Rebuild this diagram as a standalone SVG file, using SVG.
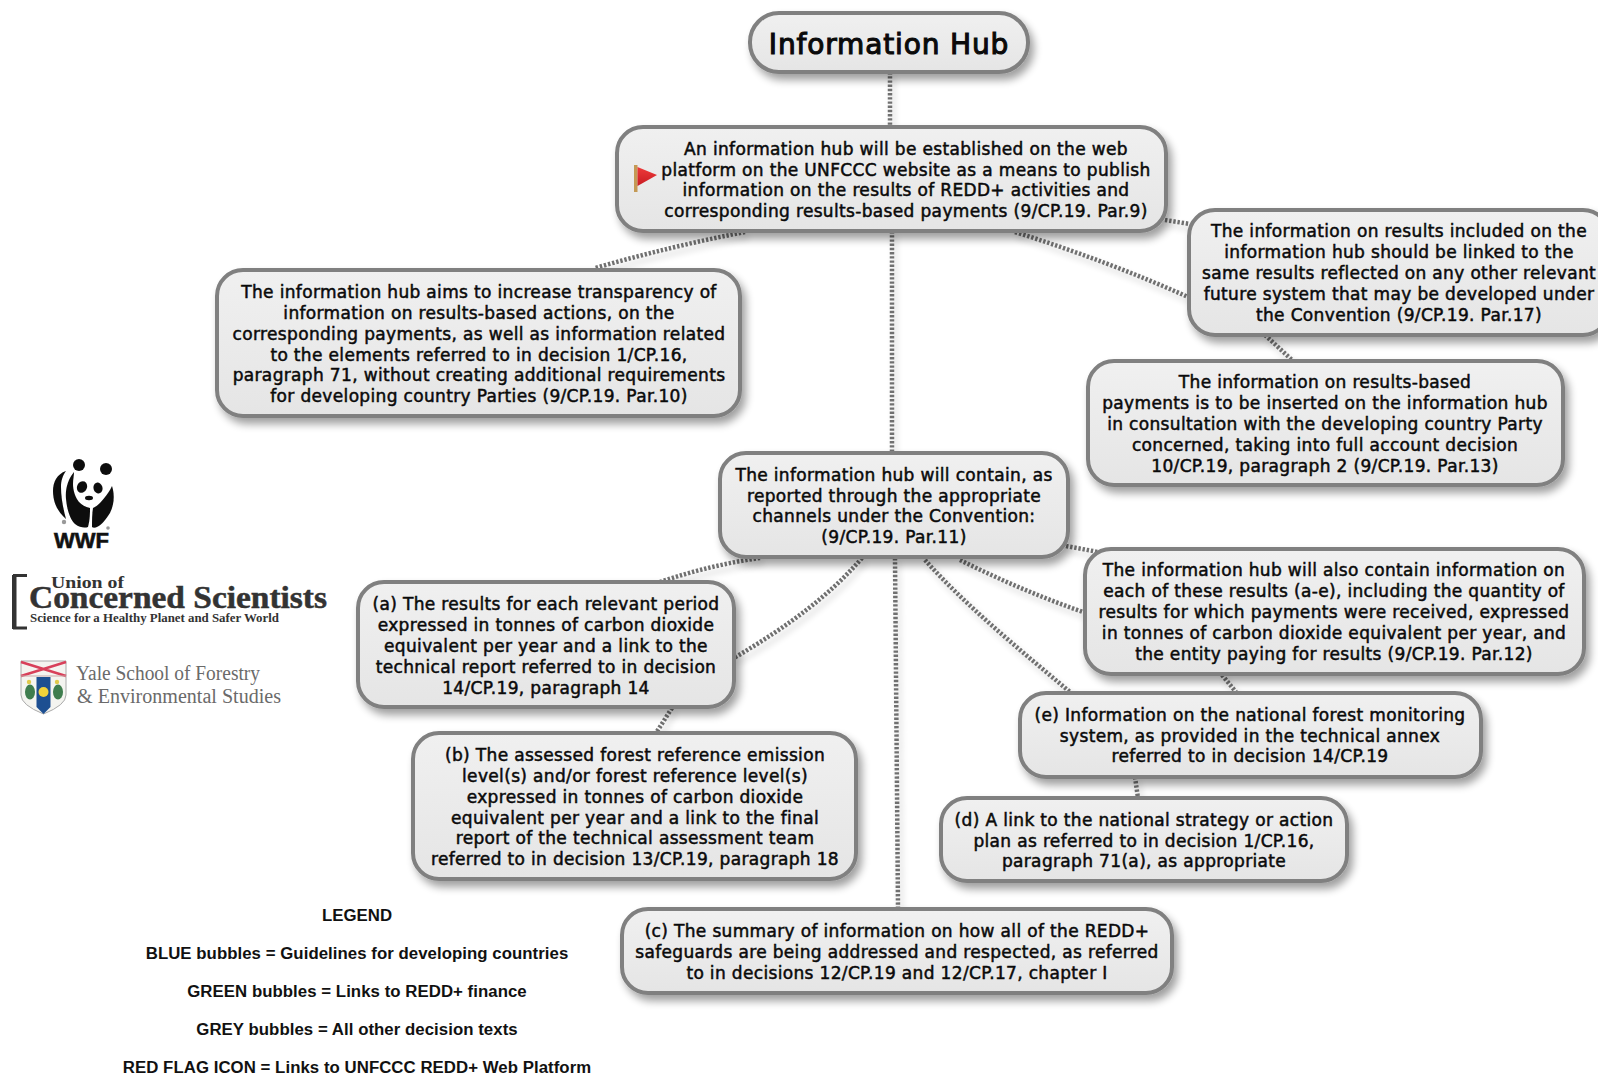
<svg xmlns="http://www.w3.org/2000/svg" width="1598" height="1075" viewBox="0 0 1598 1075">
<defs>
<linearGradient id="g" x1="0" y1="0" x2="0" y2="1"><stop offset="0" stop-color="#f0f0f0"/><stop offset="1" stop-color="#e5e5e5"/></linearGradient>
<linearGradient id="fl" x1="0" y1="0" x2="0" y2="1"><stop offset="0" stop-color="#ee3a3a"/><stop offset="1" stop-color="#c81c22"/></linearGradient>
<filter id="s" x="-10%" y="-20%" width="125%" height="150%"><feGaussianBlur in="SourceAlpha" stdDeviation="4"/><feOffset dx="4" dy="6"/><feComponentTransfer><feFuncA type="linear" slope="0.38"/></feComponentTransfer><feMerge><feMergeNode/><feMergeNode in="SourceGraphic"/></feMerge></filter>
<filter id="cs" x="-30%" y="-30%" width="160%" height="160%"><feGaussianBlur in="SourceAlpha" stdDeviation="3"/><feOffset dx="3" dy="5"/><feComponentTransfer><feFuncA type="linear" slope="0.2"/></feComponentTransfer><feMerge><feMergeNode/><feMergeNode in="SourceGraphic"/></feMerge></filter>
<filter id="soft" x="-5%" y="-5%" width="110%" height="110%"><feGaussianBlur stdDeviation=".5"/></filter>
</defs>
<style>
.b{fill:url(#g);stroke:#808080;stroke-width:4}
.t{font-family:"DejaVu Sans",sans-serif;font-size:17px;letter-spacing:.34px;fill:#0a0a0a;text-anchor:middle;stroke:#0a0a0a;stroke-width:.5}
.c{fill:none;stroke:#707070;stroke-width:4.5;stroke-dasharray:2.4 1.8}
.l{font-family:"Liberation Sans",Arial,sans-serif;font-size:16.8px;letter-spacing:.05px;font-weight:bold;fill:#111;text-anchor:middle}
.sf{font-family:"Liberation Serif",serif}
.ucs{fill:#333;font-weight:bold}
.yale{fill:#6a6a6a;font-size:20px}
</style>
<rect width="1598" height="1075" fill="#fff"/>
<g id="connectors" class="c" filter="url(#cs)">
<path d="M890 72V126"/>
<path d="M892 231V452"/>
<path d="M745 232Q672 246 595 268"/>
<path d="M1165 220L1190 224"/>
<path d="M1015 232Q1110 262 1188 297"/>
<path d="M1265 335L1292 360"/>
<path d="M760 558Q710 565 660 582"/>
<path d="M862 558C830 595 790 625 734 658"/>
<path d="M895 558L898 907"/>
<path d="M925 560C965 605 1020 650 1070 692"/>
<path d="M960 560Q1020 590 1083 612"/>
<path d="M1066 546L1098 552"/>
<path d="M672 708L656 733"/>
<path d="M1222 675L1236 692"/>
<path d="M1135 777L1138 798"/>
</g>
<g id="hub"><rect class="b" x="750" y="13" width="278" height="59" rx="29" filter="url(#s)"/><text x="889" y="54" style="font-family:'DejaVu Sans',sans-serif;font-size:28px;letter-spacing:.85px;fill:#0a0a0a;stroke:#0a0a0a;stroke-width:1.1;text-anchor:middle">Information Hub</text></g>
<g id="n-publish"><rect class="b" x="617" y="127" width="549" height="104" rx="26" filter="url(#s)"/>
<g id="flag"><rect x="634" y="165" width="3.5" height="27" fill="#c49a55"/><path d="M637.500 167L657 175L637.500 186Z" fill="url(#fl)"/></g>
<text class="t"><tspan x="906" y="154.500">An information hub will be established on the web</tspan><tspan x="906" y="175.500">platform on the UNFCCC website as a means to publish</tspan><tspan x="906" y="195.500">information on the results of REDD+ activities and</tspan><tspan x="906" y="216.500">corresponding results-based payments (9/CP.19. Par.9)</tspan></text></g>
<g id="n-aims"><rect class="b" x="217" y="270" width="523" height="146" rx="26" filter="url(#s)"/>
<text class="t"><tspan x="479" y="297.500">The information hub aims to increase transparency of</tspan><tspan x="479" y="318.500">information on results-based actions, on the</tspan><tspan x="479" y="339.500">corresponding payments, as well as information related</tspan><tspan x="479" y="360.500">to the elements referred to in decision 1/CP.16,</tspan><tspan x="479" y="380.500">paragraph 71, without creating additional requirements</tspan><tspan x="479" y="401.500">for developing country Parties (9/CP.19. Par.10)</tspan></text></g>
<g id="n-linked"><rect class="b" x="1189" y="210" width="420" height="125" rx="26" filter="url(#s)"/>
<text class="t"><tspan x="1399" y="236.500">The information on results included on the</tspan><tspan x="1399" y="257.500">information hub should be linked to the</tspan><tspan x="1399" y="278.500">same results reflected on any other relevant</tspan><tspan x="1399" y="299.500">future system that may be developed under</tspan><tspan x="1399" y="320.500">the Convention (9/CP.19. Par.17)</tspan></text></g>
<g id="n-inserted"><rect class="b" x="1088" y="361" width="475" height="124" rx="26" filter="url(#s)"/>
<text class="t"><tspan x="1325" y="387.500">The information on results-based</tspan><tspan x="1325" y="408.500">payments is to be inserted on the information hub</tspan><tspan x="1325" y="429.500">in consultation with the developing country Party</tspan><tspan x="1325" y="450.500">concerned, taking into full account decision</tspan><tspan x="1325" y="471.500">10/CP.19, paragraph 2 (9/CP.19. Par.13)</tspan></text></g>
<g id="n-contain"><rect class="b" x="720" y="453" width="348" height="104" rx="26" filter="url(#s)"/>
<text class="t"><tspan x="894" y="480.500">The information hub will contain, as</tspan><tspan x="894" y="501.500">reported through the appropriate</tspan><tspan x="894" y="521.500">channels under the Convention:</tspan><tspan x="894" y="542.500">(9/CP.19. Par.11)</tspan></text></g>
<g id="n-a"><rect class="b" x="358" y="582" width="376" height="125" rx="26" filter="url(#s)"/>
<text class="t"><tspan x="546" y="609.500">(a) The results for each relevant period</tspan><tspan x="546" y="630.500">expressed in tonnes of carbon dioxide</tspan><tspan x="546" y="651.500">equivalent per year and a link to the</tspan><tspan x="546" y="672.500">technical report referred to in decision</tspan><tspan x="546" y="693.500">14/CP.19, paragraph 14</tspan></text></g>
<g id="n-b"><rect class="b" x="413" y="733" width="443" height="146" rx="26" filter="url(#s)"/>
<text class="t"><tspan x="635" y="760.500">(b) The assessed forest reference emission</tspan><tspan x="635" y="781.500">level(s) and/or forest reference level(s)</tspan><tspan x="635" y="802.500">expressed in tonnes of carbon dioxide</tspan><tspan x="635" y="823.500">equivalent per year and a link to the final</tspan><tspan x="635" y="843.500">report of the technical assessment team</tspan><tspan x="635" y="864.500">referred to in decision 13/CP.19, paragraph 18</tspan></text></g>
<g id="n-also"><rect class="b" x="1085" y="549" width="499" height="125" rx="26" filter="url(#s)"/>
<text class="t"><tspan x="1334" y="575.500">The information hub will also contain information on</tspan><tspan x="1334" y="596.500">each of these results (a-e), including the quantity of</tspan><tspan x="1334" y="617.500">results for which payments were received, expressed</tspan><tspan x="1334" y="638.500">in tonnes of carbon dioxide equivalent per year, and</tspan><tspan x="1334" y="659.500">the entity paying for results (9/CP.19. Par.12)</tspan></text></g>
<g id="n-e"><rect class="b" x="1020" y="693" width="461" height="84" rx="26" filter="url(#s)"/>
<text class="t"><tspan x="1250" y="720.500">(e) Information on the national forest monitoring</tspan><tspan x="1250" y="741.500">system, as provided in the technical annex</tspan><tspan x="1250" y="761.500">referred to in decision 14/CP.19</tspan></text></g>
<g id="n-d"><rect class="b" x="941" y="798" width="406" height="83" rx="26" filter="url(#s)"/>
<text class="t"><tspan x="1144" y="825.500">(d) A link to the national strategy or action</tspan><tspan x="1144" y="846.500">plan as referred to in decision 1/CP.16,</tspan><tspan x="1144" y="866.500">paragraph 71(a), as appropriate</tspan></text></g>
<g id="n-c"><rect class="b" x="622" y="909" width="550" height="84" rx="26" filter="url(#s)"/>
<text class="t"><tspan x="897" y="936.500">(c) The summary of information on how all of the REDD+</tspan><tspan x="897" y="957.500">safeguards are being addressed and respected, as referred</tspan><tspan x="897" y="978.500">to in decisions 12/CP.19 and 12/CP.17, chapter I</tspan></text></g>
<g id="legend" class="l"><text x="357" y="921">LEGEND</text><text x="357" y="959">BLUE bubbles = Guidelines for developing countries</text><text x="357" y="997">GREEN bubbles = Links to REDD+ finance</text><text x="357" y="1035">GREY bubbles = All other decision texts</text><text x="357" y="1073">RED FLAG ICON = Links to UNFCCC REDD+ Web Platform</text></g>
<g id="logo-wwf">
<g fill="#0c0c0c" filter="url(#soft)">
<circle cx="79" cy="465" r="6"/><circle cx="106" cy="469" r="6"/>
<path d="M66 471C57 474 53 482 53 491C53 503 58 512 66 519C63 508 61 497 61 487C61 480 63 475 66 471Z"/>
<path d="M74 472C68 479 65 489 66 499C67 510 70 519 75 524C80 528 85 528 88 527C90 520 90 513 90 508C85 507 82 505 79 502C75 497 73 490 73 484C73 479 74 476 74 472Z"/>
<path d="M93 508C98 506 104 499 108 493C110 490 111 488 112 486C115 495 114 505 110 513C106 519 102 525 97 527C95 528 93 528 92 527C92 520 92 514 93 508Z"/>
<ellipse cx="82" cy="487" rx="5" ry="6" transform="rotate(25 82 487)"/><ellipse cx="98" cy="488" rx="4.500" ry="5.500" transform="rotate(-15 98 488)"/>
<ellipse cx="89" cy="498" rx="4" ry="2.200"/>
</g>
<circle cx="64" cy="522" r="2.200" fill="#999"/><circle cx="108" cy="528" r="1.800" fill="#999"/>
<text x="81.500" y="548" style="font-family:'Liberation Sans',sans-serif;font-weight:bold;font-size:22px;fill:#111;stroke:#111;stroke-width:.6;text-anchor:middle">WWF</text>
</g>
<g id="logo-ucs" class="sf">
<path d="M27 575.500H14.500V628H27" fill="none" stroke="#333" stroke-width="3"/><rect x="12" y="575" width="4.500" height="54" fill="#333"/>
<text class="ucs" x="51" y="588" font-size="17" textLength="73" lengthAdjust="spacingAndGlyphs">Union of</text>
<text class="ucs" x="29" y="608" font-size="32" stroke="#333" stroke-width=".5" textLength="298" lengthAdjust="spacingAndGlyphs">Concerned Scientists</text>
<text class="ucs" x="30" y="622" font-size="12.500" textLength="249" lengthAdjust="spacingAndGlyphs">Science for a Healthy Planet and Safer World</text>
</g>
<g id="logo-yale">
<path d="M21 661H66V695Q66 705 43.500 714Q21 705 21 695Z" fill="#f4f4f0" stroke="#aaa" stroke-width="1"/>
<path d="M21 662L66 676M66 662L21 676" stroke="#d8405a" stroke-width="2.500" fill="none"/>
<path d="M21 676H66" stroke="#c9a9a9" stroke-width="1"/>
<path d="M36.500 677H50.500V707L43.500 714L36.500 707Z" fill="#1d4f91"/>
<circle cx="43.500" cy="692" r="5" fill="#f2d33a"/>
<ellipse cx="30" cy="692" rx="5" ry="7.500" fill="#3f7d4e"/><ellipse cx="58" cy="692" rx="5" ry="7.500" fill="#3f7d4e"/>
<circle cx="29" cy="682" r="2.200" fill="#e0c94a"/><circle cx="57" cy="682" r="2.200" fill="#e0c94a"/>
<g class="sf yale"><text x="76" y="680" textLength="184" lengthAdjust="spacingAndGlyphs">Yale School of Forestry</text><text x="77" y="703" textLength="204" lengthAdjust="spacingAndGlyphs">&amp; Environmental Studies</text></g>
</g>
</svg>
